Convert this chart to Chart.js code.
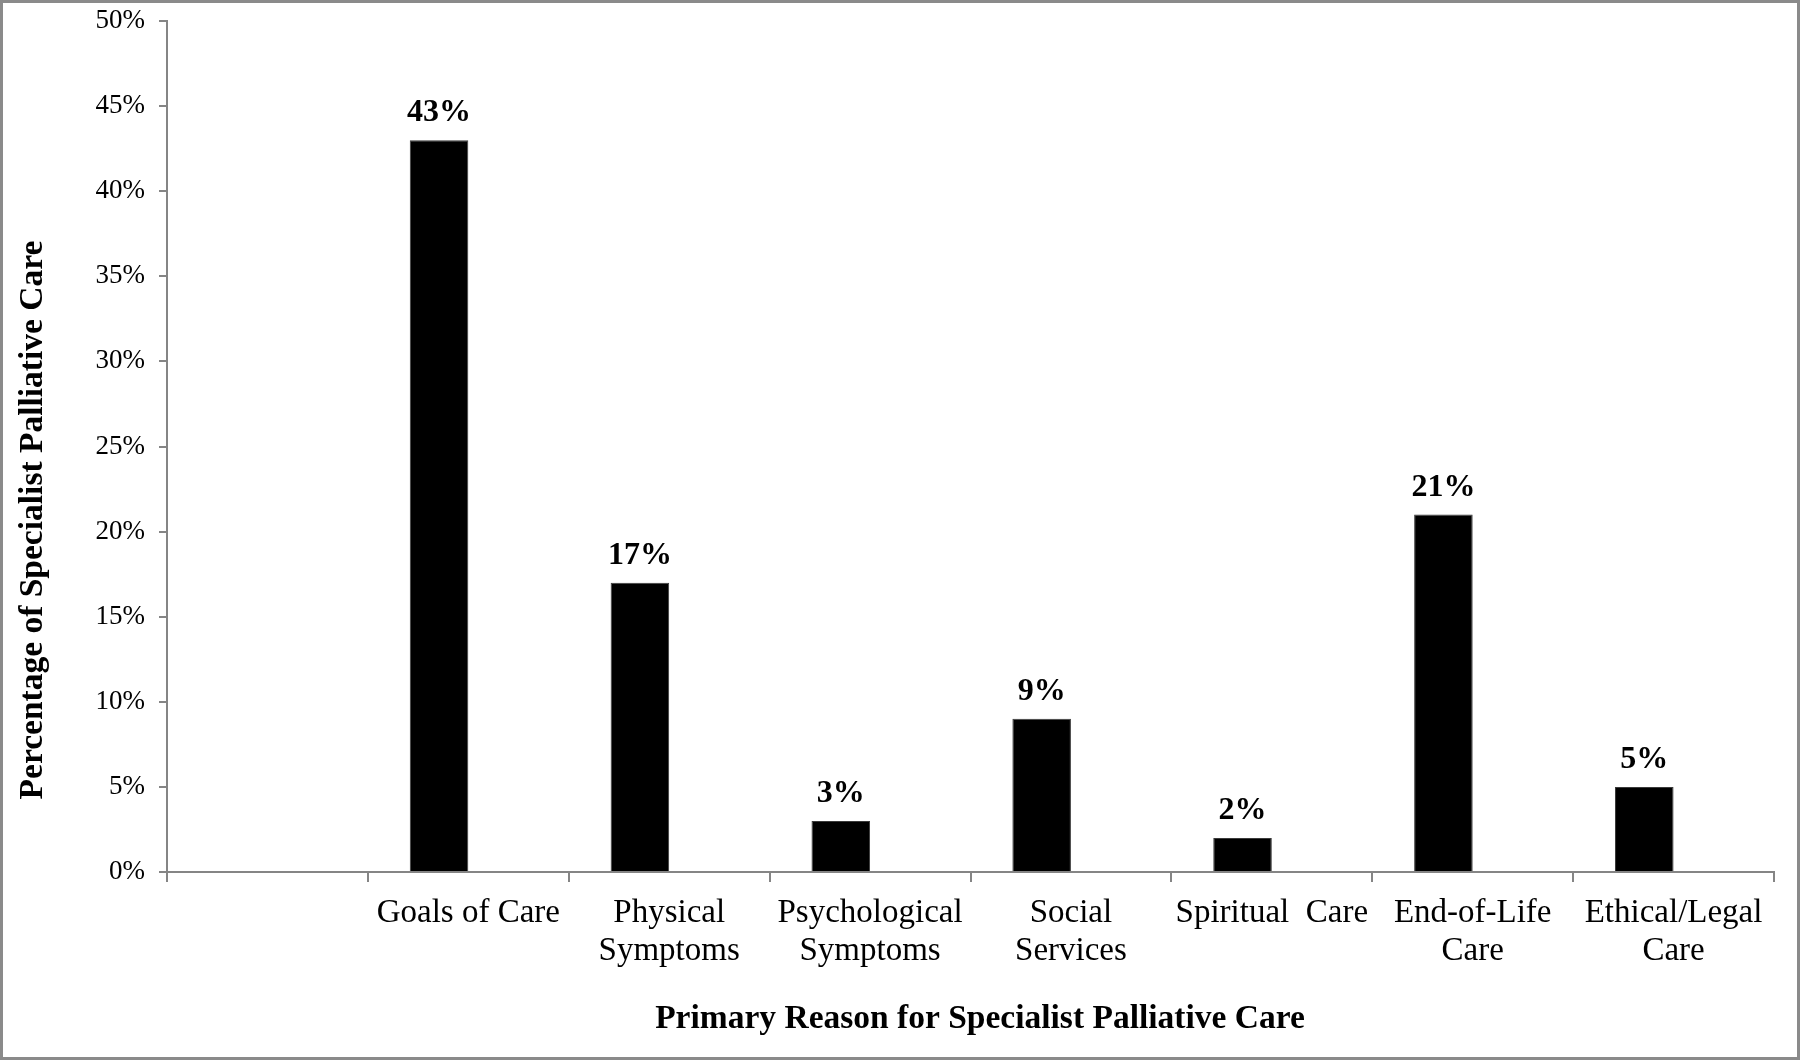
<!DOCTYPE html>
<html>
<head>
<meta charset="utf-8">
<script src="https://cdn.jsdelivr.net/npm/chart.js@4.4.1/dist/chart.umd.min.js"></script>
<style>
  html, body { margin: 0; padding: 0; background: #ffffff; }
  #wrap { width: 1800px; height: 1060px; position: relative; }
</style>
</head>
<body>
<div id="wrap"><canvas id="c" width="1800" height="1060"></canvas></div>
<script>
// ---- data ----
const categories = [
  '',
  'Goals of Care',
  ['Physical', 'Symptoms'],
  ['Psychological', 'Symptoms'],
  ['Social', 'Services'],
  'Spiritual  Care',
  ['End-of-Life', 'Care'],
  ['Ethical/Legal', 'Care']
];
const percentValues = [null, 43, 17, 3, 9, 2, 21, 5];
const emptySeries = [null, null, null, null, null, null, null, null];
const yTickMin = 0;
const yTickMax = 50;
const yTickStep = 5;
const xTitle = 'Primary Reason for Specialist Palliative Care';
const yTitle = 'Percentage of Specialist Palliative Care';

const AXIS_GRAY = '#858585';
const SERIF = '"Liberation Serif", "Times New Roman", serif';

const frame = {
  id: 'frame',
  beforeDraw(chart) {
    const ctx = chart.ctx;
    ctx.save();
    ctx.fillStyle = '#ffffff';
    ctx.fillRect(0, 0, chart.width, chart.height);
    ctx.strokeStyle = '#8a8a8a';
    ctx.lineWidth = 3;
    ctx.strokeRect(1.5, 1.5, chart.width - 3, chart.height - 3);
    ctx.restore();
  }
};

// axis titles, placed as in the reference (slightly off the plot-area centre)
const axisTitles = {
  id: 'axisTitles',
  afterDraw(chart) {
    const ctx = chart.ctx;
    ctx.save();
    ctx.fillStyle = '#000000';
    ctx.font = 'bold 33.5px ' + SERIF;
    ctx.textAlign = 'center';
    ctx.textBaseline = 'middle';
    ctx.fillText(xTitle, 980, 1019);
    ctx.translate(33, 520);
    ctx.rotate(-Math.PI / 2);
    ctx.fillText(yTitle, 0, 0);
    ctx.restore();
  }
};

const valueLabels = {
  id: 'valueLabels',
  afterDatasetsDraw(chart) {
    const ctx = chart.ctx;
    const meta = chart.getDatasetMeta(0);
    const data = chart.data.datasets[0].data;
    ctx.save();
    ctx.fillStyle = '#000000';
    ctx.font = 'bold 32px ' + SERIF;
    ctx.textAlign = 'center';
    ctx.textBaseline = 'alphabetic';
    meta.data.forEach((el, i) => {
      const v = data[i];
      if (v === null || v === undefined) return;
      ctx.fillText(v + '%', el.x, el.y - 19);
    });
    ctx.restore();
  }
};

new Chart(document.getElementById('c'), {
  type: 'bar',
  data: {
    labels: categories,
    datasets: [
      {
        data: percentValues,
        backgroundColor: '#000000',
        borderColor: '#3a3a3a',
        borderWidth: 1,
        categoryPercentage: 0.583,
        barPercentage: 1.0
      },
      {
        data: emptySeries,
        backgroundColor: '#000000',
        categoryPercentage: 0.583,
        barPercentage: 1.0
      }
    ]
  },
  options: {
    responsive: false,
    animation: false,
    devicePixelRatio: 1,
    layout: { padding: { top: 21, right: 26, left: 0, bottom: 0 } },
    plugins: {
      legend: { display: false },
      tooltip: { enabled: false },
      title: { display: false }
    },
    scales: {
      x: {
        offset: true,
        grid: {
          offset: true,
          drawOnChartArea: false,
          drawTicks: true,
          tickLength: 10,
          color: AXIS_GRAY,
          lineWidth: 2
        },
        border: { display: true, color: AXIS_GRAY, width: 2 },
        ticks: {
          color: '#000000',
          font: { family: SERIF, size: 33, lineHeight: 1.15 },
          padding: 12,
          maxRotation: 0,
          minRotation: 0,
          autoSkip: false
        },
        title: { display: false },
        afterFit(scale) {
          scale.height = 188;
          scale.paddingLeft = 0;
          scale.paddingRight = 0;
        }
      },
      y: {
        min: yTickMin,
        max: yTickMax,
        grid: {
          drawOnChartArea: false,
          drawTicks: true,
          tickLength: 8,
          color: AXIS_GRAY,
          lineWidth: 2
        },
        border: { display: true, color: AXIS_GRAY, width: 2 },
        ticks: {
          stepSize: yTickStep,
          color: '#000000',
          font: { family: SERIF, size: 27 },
          padding: 14,
          callback: (v) => v + '%'
        },
        title: { display: false },
        afterFit(scale) {
          scale.width = 167;
          scale.paddingTop = 0;
          scale.paddingBottom = 0;
        }
      }
    }
  },
  plugins: [frame, valueLabels, axisTitles]
});
</script>
</body>
</html>
